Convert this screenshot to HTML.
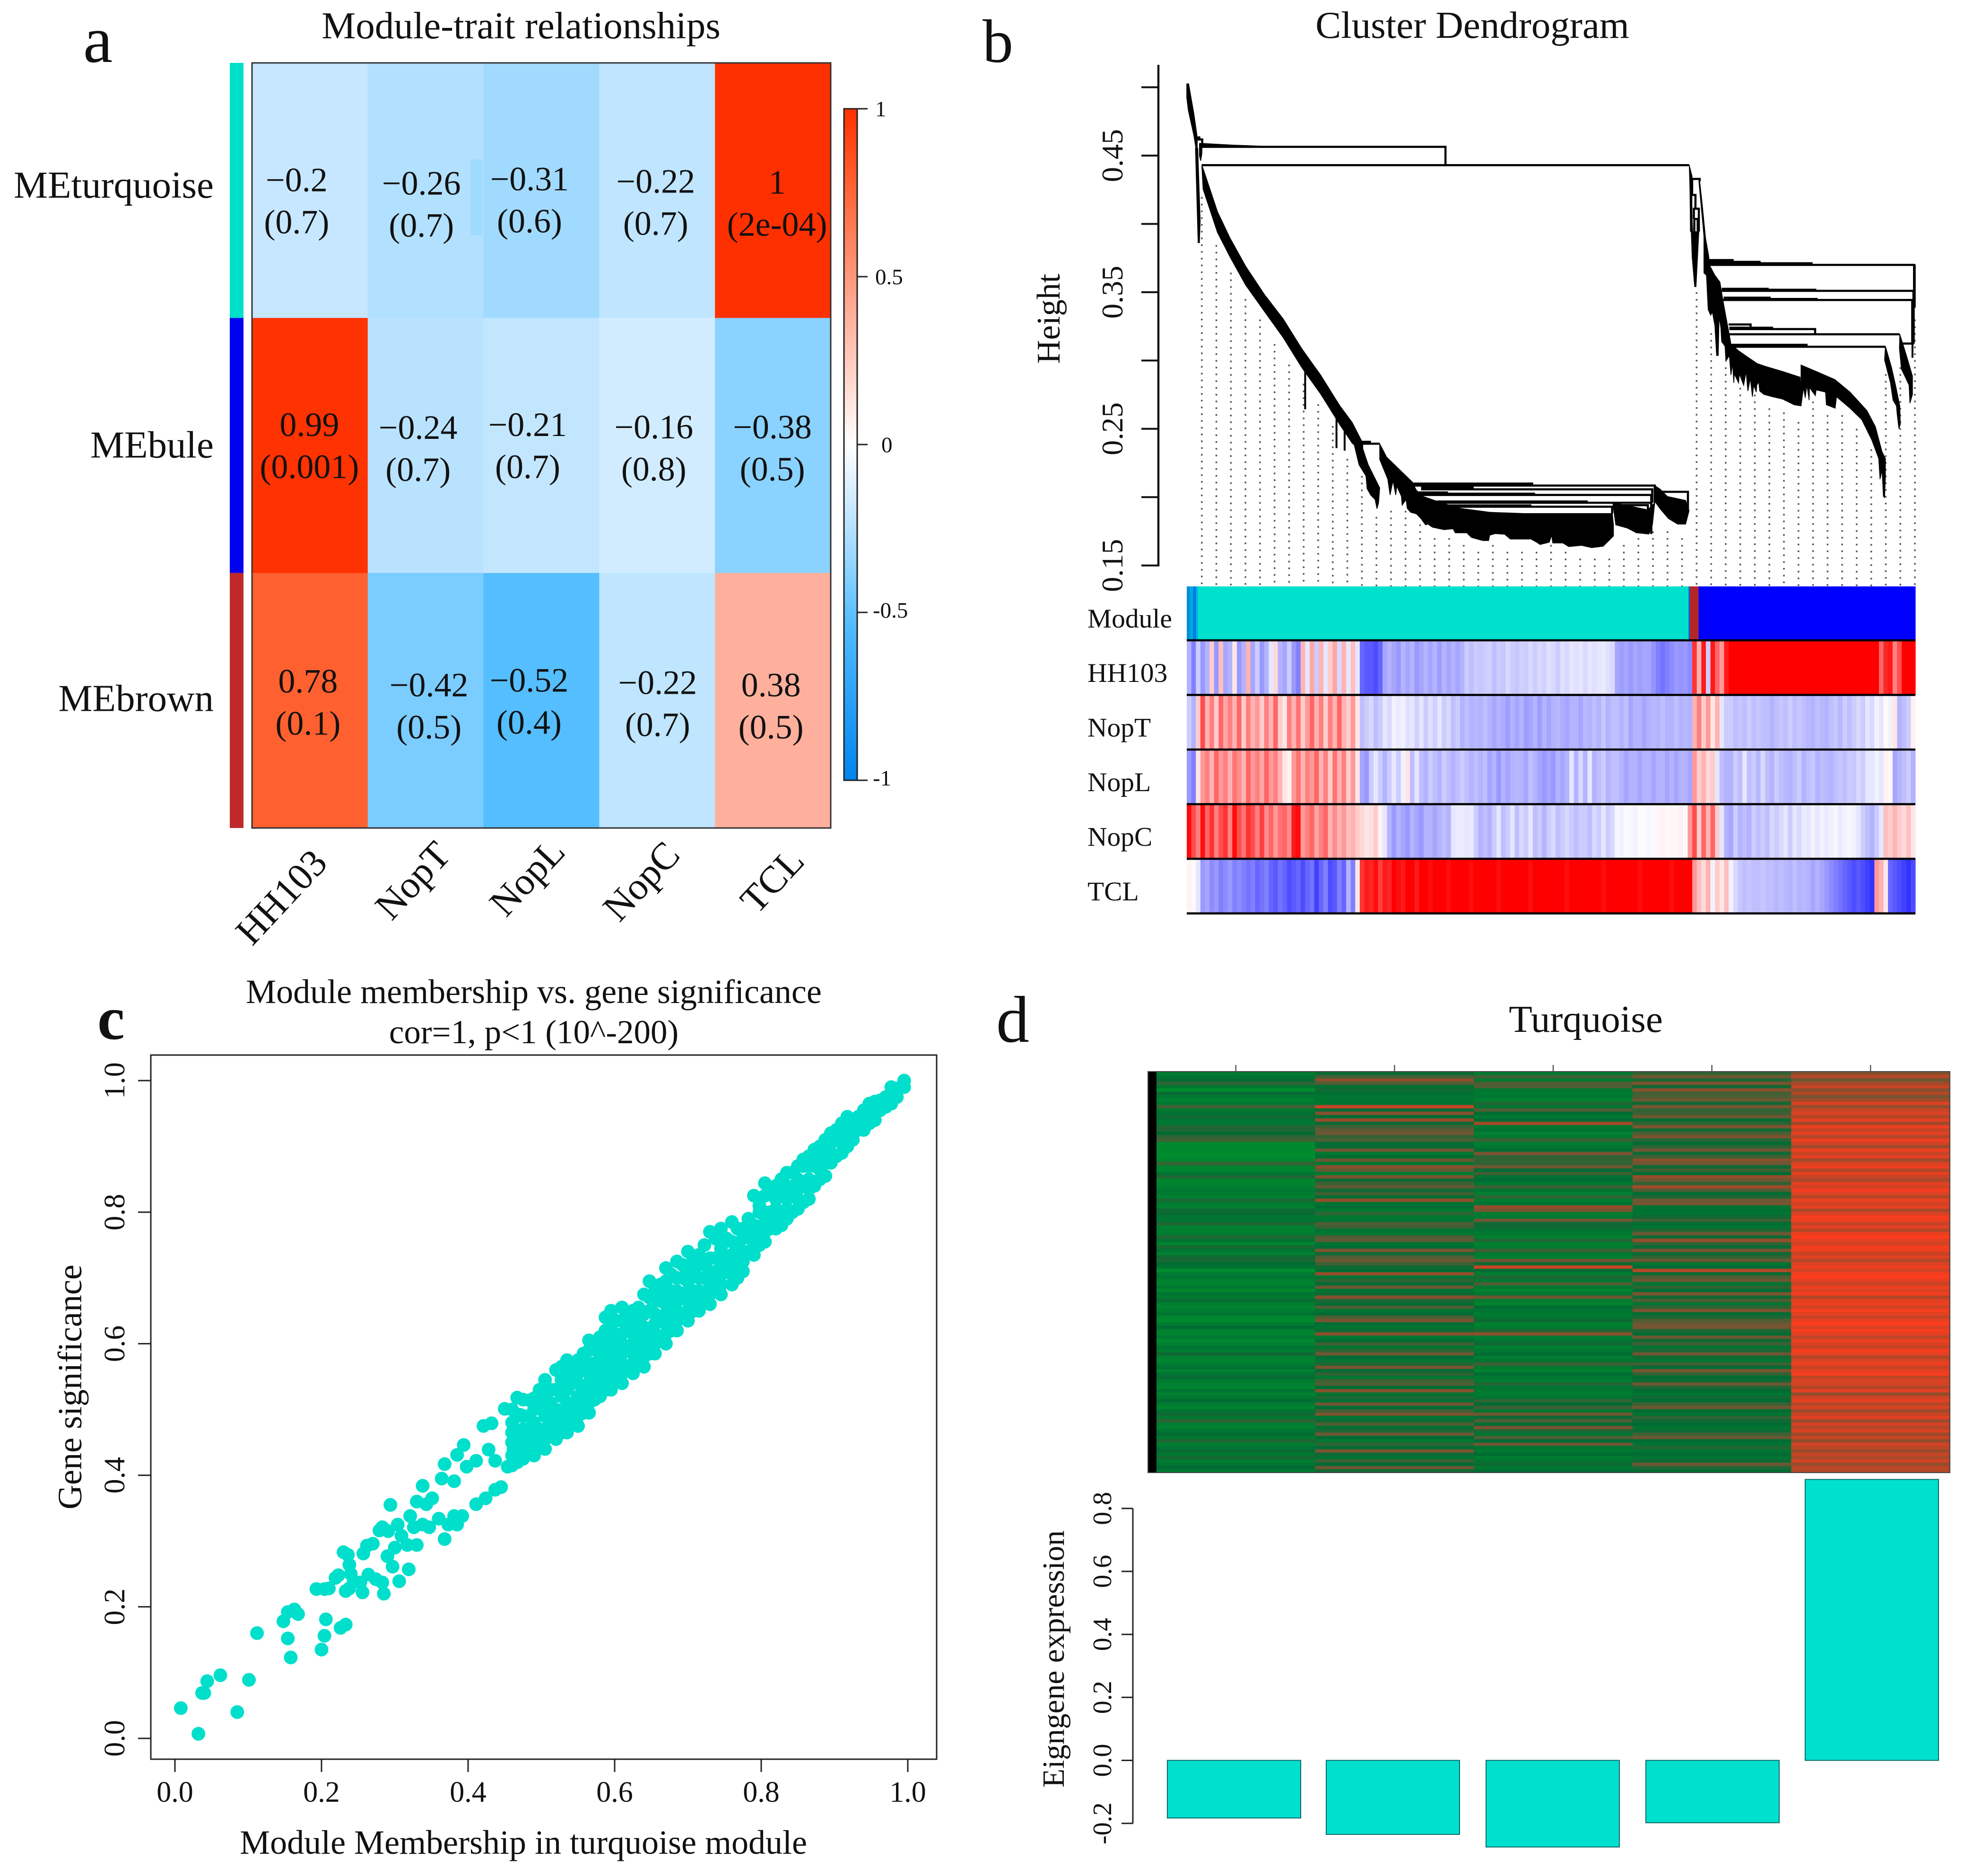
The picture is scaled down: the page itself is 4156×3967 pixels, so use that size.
<!DOCTYPE html>
<html lang="en">
<head>
<meta charset="utf-8">
<title>WGCNA module analysis figure</title>
<style>
html,body{margin:0;padding:0;background:#fff;}
svg{display:block;}
text{font-family:"Liberation Serif","Noto Serif CJK SC",serif;fill:#111;}
</style>
</head>
<body>
<svg id="fig" xmlns="http://www.w3.org/2000/svg" width="4156" height="3967" viewBox="0 0 4156 3967">
<rect x="0" y="0" width="4156" height="3967" fill="#fff"/>

<g id="panelA">
<text x="176" y="131" font-size="140">a</text>
<text x="1102" y="81" font-size="81" text-anchor="middle">Module-trait relationships</text>
</g>

<g id="panelB">
<text x="2078" y="131" font-size="130">b</text>
<text x="3114" y="80" font-size="81" text-anchor="middle">Cluster Dendrogram</text>
<text x="2241" y="674" font-size="70" text-anchor="middle" transform="rotate(-90 2241 674)">Height</text>
</g>

<g id="panelC">
<text x="206" y="2197" font-size="130" font-weight="bold">c</text>
<text x="1129" y="2121" font-size="72" text-anchor="middle">Module membership vs. gene significance</text>
<text x="1129" y="2206" font-size="71" text-anchor="middle">cor=1, p&lt;1 (10^-200)</text>
<text x="1107" y="3920" font-size="72" text-anchor="middle">Module Membership in turquoise module</text>
<text x="172" y="2933" font-size="72" text-anchor="middle" transform="rotate(-90 172 2933)">Gene significance</text>
<rect x="319" y="2231" width="1662" height="1489" fill="none" stroke="#222" stroke-width="3"/>
</g>

<g id="panelD">
<text x="2107" y="2203" font-size="140">d</text>
<text x="3354" y="2182" font-size="81" text-anchor="middle">Turquoise</text>
<text x="2250" y="3508" font-size="65.5" text-anchor="middle" transform="rotate(-90 2250 3508)">Eigngene expression</text>
<rect x="2428" y="2266" width="18" height="848" fill="#000"/>
</g>
</svg>

<script>
/* ---------- Panel a data ---------- */
var moduleNames = ["MEturquoise", "MEbule", "MEbrown"];
var moduleColors = ["#00DFC9", "#0000F0", "#BE2A2A"];
var traitNames = ["HH103", "NopT", "NopL", "NopC", "TCL"];
var corrValues = [
  [-0.2, -0.26, -0.31, -0.22, 1],
  [0.99, -0.24, -0.21, -0.16, -0.38],
  [0.78, -0.42, -0.52, -0.22, 0.38]
];
var pValueLabels = [
  ["(0.7)", "(0.7)", "(0.6)", "(0.7)", "(2e-04)"],
  ["(0.001)", "(0.7)", "(0.7)", "(0.8)", "(0.5)"],
  ["(0.1)", "(0.5)", "(0.4)", "(0.7)", "(0.5)"]
];
var colorbarTicks = [1, 0.5, 0, -0.5, -1];

/* ---------- Panel b data: x = leaf order (0-1163), y = merge height ---------- */
var heightTicksMajor = [0.45, 0.35, 0.25, 0.15];
var heightTicksMinor = [0.5, 0.4, 0.3, 0.2];

/* outline of each densely merged cluster branch, as leaf / height vertices */
var clusterOutlineLeaves = [
  [0,3,11.3,16.4,14.6,11.3,2.5,0],
  [13.9,17.6,21.4,20.2,18.1],
  [20.2,24.7,24,22.2,20.2],
  [25,73,121,219,25],
  [24,26,36,49,69,94,124,154,184,214,244,264,281,281,264,244,214,184,154,124,94,69,49,36,26],
  [278.7,289.7,308,306.2,303.6,300.7,293.4,287.9,286,275.1,267.8],
  [308,319,337.3,359.2,366.5,377.5,403.1,436,483.6,538.5,679.3,681.1,681.1,673.8,664.7,646.4,630,609.8,600.6,584.2,582.3,578.7,564.1,558.6,549.4,516.5,507.4,492.7,483.6,481.8,472.6,454.3,447,428.7,425.1,410.4,392.1,384.8,381.2,373.8,366.5,357.4,351.9,350.1,343.8,342.7,335.4,333.6,329.2,324.5,320.8,308],
  [680,701.2,736,747,743.3,737.8,717.7,703,684.8],
  [747,756.1,767.1,796.3,801.8,796.3,783.5,768.9,756.1,747],
  [802.1,806.7,805.3,807.5,804,803.2],
  [805.3,817.4,812.9,810.7,806.7],
  [818.8,822.8,828.2,832.8,835,843,851.1,855.2,860.6,866,868.7,866,860.6,859.2,853.8,852.5,849.8,848.4,845.7,843,839,836.3,832.3,829.6,825.5,825.5,820.1,817.4],
  [868.7,880.8,897,910.4,923.9,950.9,979.1,980.5,969.7,950.9,934.7,921.2,914.5,913.1,909.9,909.1,905,902.9,899.6,895.6,892.9,888.9,882.1,880.8,874,873.2,871.3,868.7,866],
  [980.5,1004.7,1034.4,1058.7,1085.6,1099.1,1109.9,1115.2,1115.2,1113.9,1112,1109.9,1106.6,1104.5,1093.7,1077.5,1058.7,1037.1,1035,1021,1019.6,1004.7,1003.4,994,993.4,989.9,987.2,984.5,980.5],
  [1115.2,1124.7,1131.4,1138.2,1139,1136.8,1134.1,1132.8,1127.4,1123.3,1113.9],
  [1138.2,1147.6,1158.4,1158.4,1154.3,1153,1146.2,1140.8,1137.6],
  [1160.5,1163,1163,1160.5]
];
var clusterOutlineHeights = [
  [.5025,.5025,.4808,.4647,.4554,.4647,.4831,.4924],
  [.4554,.4554,.4024,.3862,.3862],
  [.4589,.4589,.4508,.4462,.4497],
  [.4589,.4577,.4569,.4564,.4560],
  [.4430,.4406,.4269,.4090,.3897,.3690,.3483,.3304,.3084,.2891,.2671,.2547,.2395,.2326,.2395,.2533,.2753,.2946,.3167,.3359,.3552,.3759,.3938,.4117,.4255],
  [.2386,.2236,.2068,.1959,.1915,.1982,.2016,.2062,.2155,.2236,.2374],
  [.2391,.2293,.2212,.2114,.2051,.2005,.1964,.1918,.1889,.1880,.1880,.1797,.1716,.1682,.1641,.1630,.1647,.1638,.1664,.1664,.1722,.1670,.1653,.1670,.1693,.1693,.1728,.1733,.1722,.1682,.1682,.1705,.1739,.1739,.1768,.1762,.1780,.1803,.1797,.1843,.1878,.1889,.1918,.1982,.1941,.2005,.2080,.2016,.2120,.2016,.2132,.2276],
  [.1959,.1941,.1907,.1959,.1797,.1730,.1739,.1774,.1797],
  [.2085,.2057,.2005,.1976,.1901,.1803,.1803,.1843,.1912,.1970],
  [.4430,.4346,.4212,.3943,.3943,.4245],
  [.3943,.3943,.3541,.3541,.3759],
  [.4312,.4145,.3893,.3775,.3692,.3624,.3574,.3457,.3322,.3188,.3121,.3037,.2995,.3104,.3138,.3239,.3322,.3037,.3037,.3255,.3356,.3331,.3373,.3624,.3641,.3910,.4178,.4312],
  [.3121,.3071,.3020,.2978,.2957,.2920,.2878,.2668,.2676,.2718,.2735,.2752,.2777,.2844,.2819,.2769,.2819,.2735,.2869,.2777,.2920,.2819,.2903,.2836,.2903,.2836,.2978,.2894,.3037],
  [.2967,.2920,.2861,.2769,.2634,.2517,.2332,.2282,.2148,.1997,.2005,.2198,.2131,.2282,.2416,.2567,.2651,.2735,.2651,.2676,.2769,.2785,.2743,.2802,.2710,.2819,.2727,.2802,.2668],
  [.3104,.2953,.2819,.2668,.2534,.2500,.2601,.2668,.2710,.2836,.3004],
  [.3192,.3054,.2886,.2752,.2688,.2819,.2886,.2936,.3087],
  [.3700,.3700,.3389,.3389]
];

var mergeLeftLeaf  = [20,24,15.6,14,806.7,805.3,809.4,810.2,831,854,855,865,866,866,870,1138,278.7,359,374,370,399.5,407,680,747,831,831,831,854,854,857,857,870,866,265,359,374,370,370,399,407];
var mergeRightLeaf = [413,802,24.7,20,818.8,812,817.4,815.6,1161,1160,1158,900,1003,1138,1115,1161,308,747,743,741.5,741.5,679,736,800,873,916,999,929,1005,932,1007,991,936,294,553,458,417,556,640,550];
var mergeHeights   = [.4564,.4430,.4618,.4633,.4329,.4212,.4111,.4036,.3700,.3510,.3443,.3264,.3230,.3192,.3101,.3124,.2391,.2085,.2057,.2016,.1959,.1930,.1941,.2039,.3735,.3722,.3712,.3525,.3518,.3460,.3450,.3115,.3240,.2405,.2099,.2071,.2034,.2025,.1968,.1939];
var mergeLeftDrop  = [.4564,.4430,.4554,.4618,.4212,.3943,.4036,.3943,.3700,.3510,.3443,.3264,.3230,.3192,.3101,.3124,.2386,.2114,.2057,.2016,.1959,.1930,.1941,.2039,.3735,.3722,.3712,.3525,.3518,.3460,.3450,.3115,.3240,.2405,.2099,.2071,.2034,.2025,.1968,.1939];
var mergeRightDrop = [.4430,.4430,.4589,.4618,.4312,.4111,.3943,.3943,.3389,.3443,.3124,.3240,.3192,.3192,.3101,.3124,.2391,.1959,.1959,.1907,.1730,.1880,.1907,.1901,.3735,.3722,.3712,.3525,.3518,.3460,.3450,.3115,.3240,.2405,.2099,.2071,.2034,.2025,.1968,.1939];

var spikeLeaves = [189, 239, 252, 1160.5, 1158.4];
var spikeTop    = [.2954, .2629, .2560, .3389, .3124];
var spikeBottom = [.2643, .2359, .2340, .3124, .3020];

var guideStartHeights = [
  .4197, .3845, .3643, .345, .33, .312, .297, .283, .268, .252,
  .228, .2155, .1855, .19, .19, .18, .17, .17, .165, .16,
  .165, .16, .16, .16, .165, .16, .155, .155, .155, .165,
  .17, .175, .175, .17, .35, .32, .295, .28, .275, .265,
  .262, .255, .27, .26, .26, .25, .235, .29, .295, .33
];

var moduleStripLabel = "Module";
var moduleStripSizes = [5, 5, 5, 3, 783, 2, 14, 346];
var moduleStripColors = ["#0090d8", "#00a8e0", "#0080e0", "#00b8e0", "#00E0CE", "#1060d0", "#B22828", "#0000FF"];

var traitStripNames = ["HH103", "NopT", "NopL", "NopC", "TCL"];
var stripHH103 = [
  -.3,-.5,-.2,-.4,-.3,.2,-.4,.25,-.35,-.3,.1,-.4,-.3,.3,-.35,-.2,-.4,-.3,-.1,.15,-.3,-.35,-.2,-.4,-.5,.3,-.1,.35,-.2,.3,-.1,.2,.35,-.15,.3,-.1,.25,-.1,
  -.6,-.65,-.65,-.7,-.6,
  -.35,-.3,-.35,-.4,-.3,-.35,-.3,-.4,-.35,-.3,-.35,-.3,-.38,-.3,-.35,-.3,-.35,-.3,
  -.2,-.25,-.2,-.22,-.2,-.18,-.25,-.2,-.22,-.15,-.2,-.22,-.18,-.2,-.15,-.2,-.15,-.18,-.12,-.15,-.2,-.12,-.15,-.1,-.12,-.1,-.15,-.1,-.12,-.1,-.08,-.12,-.15,
  -.35,-.38,-.35,-.4,-.35,-.38,-.35,-.35,-.42,-.5,-.55,-.5,-.45,-.4,-.42,-.4,-.45,
  .8,.3,.9,-.2,.9,.6,.4,.9,
  1,1,1,1,1,1,1,1,1,1,1,1,1,1,1,1,1,1,1,1,1,1,1,1,1,1,1,1,1,1,1,1,1,
  .6,.85,.9,.5,.7,1,1,1
];
var stripNopT = [
  -.2,-.3,.2,.7,.3,.5,.2,.6,.35,.5,.3,.6,.2,.5,.3,.4,.2,.5,.3,.6,.2,.1,.5,.3,.55,.2,.4,.6,.3,.5,.2,.5,.3,.6,.3,.2,.4,.1,
  -.25,-.2,-.15,-.25,-.2,-.1,-.15,-.05,-.08,-.05,-.12,-.1,-.18,-.1,-.2,-.12,-.18,-.1,-.2,-.15,-.25,-.2,-.3,
  -.25,-.3,-.28,-.3,-.25,-.3,-.35,-.3,-.32,-.38,-.3,-.35,-.3,-.38,-.35,-.3,-.38,-.3,-.35,-.3,-.28,-.32,-.35,-.3,-.3,-.35,-.28,-.3,-.25,-.3,-.22,-.3,-.25,
  -.25,-.3,-.25,-.35,-.3,-.3,-.35,-.3,-.28,-.3,-.25,-.3,-.3,-.25,-.3,-.28,-.3,
  .3,.5,.2,.4,.1,.3,-.1,-.2,
  -.2,-.25,-.22,-.25,-.2,-.25,-.22,-.25,-.25,-.3,-.25,-.22,-.25,-.2,-.25,-.22,-.25,-.28,-.3,-.25,-.28,-.3,-.25,-.22,-.28,-.2,-.25,-.2,-.15,-.2,-.1,-.15,-.05,-.1,.02,-.05,.1,-.3,-.25,-.2,.05
];
var stripNopL = [
  -.4,-.5,.1,.4,.5,.3,.6,.4,.5,.3,.55,.45,.3,.6,.4,.5,.35,.6,.4,.5,.3,.1,.05,.4,.55,.3,.5,.4,.6,.3,.5,.2,.55,.3,.5,.2,.4,.1,
  -.35,-.4,-.2,-.1,-.2,-.3,-.2,-.1,-.2,-.05,.1,-.25,-.1,-.25,-.3,-.2,-.25,-.3,-.2,-.25,-.3,-.25,-.2,
  -.25,-.3,-.25,-.3,-.25,-.35,-.3,-.4,-.3,-.35,-.3,-.28,-.3,-.35,-.25,-.3,-.35,-.4,-.35,-.4,-.3,-.35,-.3,-.1,-.3,-.15,-.3,-.1,-.3,-.25,-.2,-.3,-.25,
  -.25,-.3,-.35,-.3,-.3,-.35,-.3,-.3,-.35,-.3,-.3,-.35,-.3,-.35,-.3,-.3,-.35,
  .4,.2,.3,.15,.2,-.1,-.25,-.3,
  -.3,-.2,-.25,-.1,-.25,-.2,-.28,-.15,-.25,-.3,-.2,-.25,-.28,-.3,-.25,-.2,-.3,-.25,-.22,-.3,-.25,-.28,-.3,-.25,-.22,-.25,-.2,-.22,-.15,-.2,-.1,-.1,-.05,-.1,.05,.03,-.35,-.3,-.25,-.2,-.3
];
var stripNopC = [
  .95,.7,.5,.95,.6,.8,.5,.7,.8,.5,.95,.7,.55,.8,.7,.5,.75,.45,.6,.4,.55,.6,.45,.9,.95,.4,.5,.6,.35,.5,.6,.3,.45,.3,.4,.25,.3,.2,
  .15,.1,.12,.2,.05,-.1,
  -.3,-.4,-.3,-.35,-.4,-.3,-.35,-.4,-.3,-.3,-.35,-.3,-.25,-.3,-.1,-.08,-.08,
  -.1,-.08,-.2,-.3,-.25,-.3,-.2,-.1,-.25,-.2,-.1,-.25,-.15,-.2,-.1,-.25,-.2,-.3,-.2,-.15,-.25,-.2,-.15,-.2,-.25,-.2,-.2,-.25,-.15,-.2,-.1,-.2,-.15,
  -.03,-.05,-.02,-.03,-.05,.02,-.02,-.03,-.02,.03,.05,.02,.04,.03,.05,.02,.4,
  .7,.2,.6,.3,.6,.2,-.1,-.3,
  -.35,-.2,-.3,-.25,-.3,-.2,-.25,-.2,-.25,-.15,-.2,-.15,-.1,-.2,-.1,-.15,-.08,-.1,-.05,-.1,-.05,-.08,-.05,-.03,-.08,-.05,-.03,-.05,-.1,-.2,-.25,-.3,-.2,-.1,.25,.2,.3,.2,.15,.25,.1
];
var stripTCL = [
  .05,.02,-.1,-.4,-.35,-.45,-.4,-.5,-.45,-.4,-.5,-.45,-.5,-.55,-.5,-.6,-.55,-.5,-.6,-.65,-.55,-.6,-.7,-.65,-.6,-.7,-.6,-.55,-.75,-.6,-.5,-.7,-.65,-.5,-.6,-.3,-.5,.1,
  .8,.9,.85,.95,.75,.9,.85,1,.95,.9,
  1,1,.9,1,1,.95,1,1,1,.95,
  1,1,1,1,.95,1,1,1,1,1,
  .95,1,1,1,1,1,1,.95,1,1,
  1,1,1,1,1,.95,1,1,1,1,
  1,1,1,.95,1,1,1,1,1,1,
  1,.95,1,1,1,1,1,1,.95,1,
  1,1,1,
  .4,.25,.15,.3,-.05,.2,.1,.25,
  -.05,-.15,-.22,-.25,-.22,-.25,-.25,-.22,-.25,-.25,-.28,-.25,-.28,-.3,-.25,-.3,-.28,-.3,-.35,-.3,-.35,-.4,-.45,-.5,-.55,-.6,-.65,-.7,-.65,-.7,-.75,-.8,.4,.3,.1,-.6,-.65,-.7,-.75,-.8,-.7
];

/* ---------- Panel c data ---------- */
var scatterTicks = [0, 0.2, 0.4, 0.6, 0.8, 1];
var sparseMembership = [.008,.032,.037,.040,.044,.062,.085,.101,.112,.148,.154,.163,.168,.154,.158,.200,.204,.206,.226,.233,.193,.204,.210,.219,.223,.230,.236,.238,.240,.233,.238,.244,.256,.253,.264,.274,.283,.285,.257,.262,.270,.279,.283,.291,.290,.300,.309,.304,.317,.297,.319,.306,.330,.294,.326,.321,.330,.338,.343,.351,.360,.368,.347,.338,.373,.385,.381,.392,.364,.381,.368,.385,.398,.394,.411,.421,.432,.428,.437,.411,.424,.437,.445,.454,.462,.450,.467,.471,.484];
var sparseSignificance = [.046,.007,.069,.069,.087,.096,.040,.089,.160,.178,.192,.196,.189,.152,.123,.135,.156,.181,.168,.173,.227,.227,.228,.244,.248,.283,.279,.264,.250,.224,.228,.239,.222,.237,.249,.242,.237,.220,.281,.293,.296,.316,.321,.315,.277,.290,.308,.325,.294,.261,.257,.239,.294,.355,.321,.338,.360,.384,.356,.365,.334,.303,.321,.325,.325,.325,.338,.338,.395,.391,.417,.431,.413,.446,.422,.475,.479,.439,.422,.356,.365,.378,.382,.413,.439,.501,.518,.492,.514];
var coreMembership = [.46,.475,.49,.505,.52,.535,.55,.565,.58,.595,.61,.625,.64,.655,.67,.685,.70,.715,.73,.745,.76,.775,.79,.805,.82,.835,.85,.865,.88,.895,.91,.925,.94,.955,.97,.985,.995];
var coreSignificance = [
  [.415,.43,.45,.465,.48,.50],
  [.425,.44,.455,.47,.49,.515],
  [.43,.445,.46,.48,.50,.517],
  [.44,.455,.47,.49,.505,.52,.545],
  [.455,.47,.485,.50,.53,.56],
  [.465,.48,.495,.51,.53,.555,.575],
  [.475,.49,.505,.52,.54,.555,.575],
  [.495,.51,.525,.54,.555,.57,.59,.605],
  [.52,.535,.55,.565,.58,.595,.61],
  [.53,.545,.56,.575,.59,.605,.625,.65],
  [.54,.555,.57,.585,.60,.615,.635,.655],
  [.555,.57,.585,.60,.615,.63,.65,.645],
  [.565,.58,.595,.61,.625,.645,.675],
  [.585,.60,.615,.63,.645,.665,.68],
  [.60,.615,.63,.645,.66,.675,.695,.715],
  [.62,.635,.65,.665,.68,.70,.725],
  [.635,.65,.665,.68,.695,.715,.74],
  [.65,.665,.68,.70,.72,.735],
  [.66,.675,.69,.71,.73,.77],
  [.675,.69,.705,.72,.745,.775],
  [.69,.705,.72,.735,.755,.785],
  [.71,.725,.74,.76,.775],
  [.735,.75,.765,.78,.825],
  [.755,.77,.785,.80,.825,.844],
  [.775,.79,.805,.82,.84],
  [.79,.805,.82,.84,.86],
  [.805,.82,.835,.85,.87],
  [.82,.835,.85,.87,.885],
  [.85,.865,.88,.90],
  [.875,.89,.905,.92],
  [.89,.905,.92,.935],
  [.91,.925,.94],
  [.925,.94,.955],
  [.94,.955,.968],
  [.96,.975],
  [.975,.988],
  [.99,1]
];
var midMembership = [.4825,.5125,.5425,.5725,.6025,.6325,.6625,.6925,.7225,.7525,.7825,.8125,.8425,.8725,.9025,.9325,.9625];
var midSignificance = [
  [.44,.47,.49],
  [.46,.48,.51,.53],
  [.485,.51,.54,.56],
  [.515,.545,.57,.595],
  [.55,.58,.61,.635],
  [.58,.605,.63,.655],
  [.61,.64,.665,.69],
  [.645,.675,.70,.72],
  [.675,.70,.72,.75],
  [.71,.73,.76],
  [.74,.765,.79],
  [.775,.80,.83],
  [.80,.83,.86],
  [.84,.87,.895],
  [.885,.91,.925],
  [.925,.945],
  [.955,.97]
];
var denseMembership = [.4675,.4975,.5275,.5575,.5875,.6175,.6475,.6775,.7075,.7375,.7675,.7975,.8275,.8575,.8875,.9175,.9475,.9775];
var denseSignificance = [
  [.42,.44,.46,.49],
  [.45,.47,.51,.53],
  [.465,.49,.52,.545,.565],
  [.495,.515,.535,.56,.585],
  [.53,.555,.585,.62,.64],
  [.56,.59,.625,.645],
  [.585,.62,.65,.67,.695],
  [.62,.65,.68,.705],
  [.65,.68,.71,.73],
  [.68,.705,.73,.76],
  [.70,.725,.75,.775],
  [.75,.775,.80,.81],
  [.78,.80,.825,.85],
  [.815,.845,.87,.88],
  [.855,.875,.895,.91],
  [.90,.92,.935,.945],
  [.935,.95,.965],
  [.965,.98,.99]
];

/* ---------- Panel d data ---------- */
var eigengeneTicks = [-0.2, 0, 0.2, 0.4, 0.6, 0.8];
var eigengeneValues = [-0.183, -0.235, -0.275, -0.198, 0.892];
var exprColumn1 = [
  -.8,-.7,-.55,-.3,-.75,-1,-.55,-.75,-.85,-.75,-.2,-.75,
  -.65,-.5,-.7,-.75,-.4,-.4,-.6,-.3,-.2,-.95,-.95,-.95,
  -1,-1,-.9,-.25,-.85,-.9,-.7,-.4,-.9,-.9,-.85,-.75,
  -.8,-.85,-.45,-.8,-.85,-.5,-.55,-.7,-.7,-.4,-.85,-.85,
  -.8,-.4,-.7,-.9,-.45,-.7,-.85,-.5,-.45,-.6,-.7,-1,
  -.8,-.7,-.85,-.9,-.75,-.95,-.7,-.8,-.55,-.85,-.9,-.8,
  -.7,-.9,-.95,-.8,-.6,-.85,-.9,-.75,-.95,-.85,-.7,-.8,
  -.5,-.85,-.9,-.8,-.65,-.85,-.7,-.55,-.8,-.85,-.9,-.7,
  -.85,-.75,-.6,-.8,-.9,-.7,-.5,-.75,-.3,-.8,-.85,-.7,
  -.6,-.75,-.4,-.8,-.7,-.55,-.75,-.45,-.8,-.7,-.6,-.75
];
var exprColumn2 = [
  -.55,-.2,.35,-.1,-.65,-.5,-.65,-.75,-.7,-.7,.7,-.5,
  .3,-.6,.4,-.5,-.2,0,.1,-.3,-.1,-.6,-.55,.1,
  -.75,-.6,.1,-.75,.3,0,-.8,.2,-.5,-.2,0,-.5,
  -.2,-.6,.4,-.7,-.6,-.75,-.3,-.75,-.7,-.1,-.2,-.7,
  -.75,-.1,0,-.7,-.6,.2,-.5,-.1,.1,-.2,-.5,-.6,
  .4,-.7,-.3,-.6,.1,-.7,-.5,.3,-.4,-.6,-.1,-.7,
  -.6,-.1,.2,-.6,-.7,-.5,.3,-.75,-.6,-.2,-.7,-.3,
  .1,-.6,-.7,-.4,.2,-.6,-.3,-.75,-.2,-.1,-.6,.3,
  -.7,-.4,-.65,.1,-.6,-.2,.2,-.7,-.5,-.1,-.65,-.4,
  .1,-.6,-.75,-.3,-.6,.2,-.5,-.7,-.2,-.6,.1,-.5
];
var exprColumn3 = [
  -.8,-.2,-.75,-.1,-.1,-.75,-.8,-.75,-.85,-.4,-.7,-.1,
  -.6,-.75,-.6,.5,-.75,-.65,-.85,-.75,-.2,-.8,-.75,-.6,
  .2,-.3,-.3,-.3,.1,-.6,-.2,-.65,-.6,-.75,-.2,-.7,
  -.85,-.3,-.8,-.7,.4,.2,-.8,-.75,.1,-.5,-.5,-.7,
  -.75,-.85,-.4,-.85,-.8,-.2,-.75,-.85,.1,-.5,.7,-.6,
  -.8,-.4,-.75,-.1,-.75,-.85,-.7,.1,-.8,-.85,-.6,-.7,
  -.8,-.75,-.5,-.85,-.8,-.4,.3,-.8,-.7,-.5,-.85,-.75,
  -.6,-.8,-.7,-.2,-.75,-.85,-.6,-.75,-.8,-.4,-.7,-.75,
  -.8,-.7,-.3,-.6,-.2,-.7,.1,-.5,-.1,-.6,.2,-.4,
  -.7,-.1,-.6,.1,-.7,-.75,-.6,-.8,-.7,-.5,-.75,-.6
];
var exprColumn4 = [
  -.3,.1,-.4,.2,-.5,.3,-.2,-.1,.1,-.5,.2,-.3,
  -.2,.1,-.6,-.3,.2,-.5,-.1,.2,-.4,-.6,-.3,.1,
  -.5,-.2,.3,.1,-.5,-.2,-.6,.4,.1,-.3,.5,-.1,
  -.6,-.4,.1,.2,-.7,-.65,-.7,-.5,-.2,-.6,-.7,-.4,
  .1,-.5,.4,-.3,-.6,.2,-.5,-.3,.1,-.7,-.6,.6,
  -.5,-.1,.1,-.7,-.3,-.6,.2,-.5,-.1,-.7,-.3,.2,
  -.6,-.4,-.1,.1,.2,-.4,-.6,.1,-.5,-.2,-.7,-.4,
  .1,-.5,-.7,-.2,-.6,.2,-.3,-.6,-.5,.1,-.4,-.6,
  -.7,-.5,-.6,-.2,.1,-.6,-.7,-.3,-.5,-.6,-.7,-.5,
  -.2,.1,-.6,-.7,-.4,-.7,-.6,-.7,-.5,.1,-.4,-.6
];
var exprColumn5 = [
  .3,.6,.1,.5,.7,.3,.6,.2,.5,.8,.4,.7,
  .8,.6,.85,.5,.9,.7,.85,.6,.9,.75,.5,.9,
  .7,.85,.5,.8,.9,.6,.85,.7,.55,.85,.75,.95,
  .8,.6,.9,.75,.85,.55,.8,.95,.9,.7,.85,.6,
  .9,1,.85,.75,.95,.9,.7,.85,.6,.8,.9,.75,
  .95,1,.85,.7,.9,.8,.95,.6,.85,.9,.75,.95,
  .85,.7,.9,1,.8,.95,.85,.65,.9,.8,.7,.95,
  .85,.6,.8,.9,.7,.85,.95,.65,.8,.75,.6,.85,
  .4,.75,.85,.6,.8,.5,.7,.85,.45,.75,.6,.8,
  .5,.7,.4,.75,.65,.45,.7,.55,.75,.4,.65,.6
];

/* ---------- helpers ---------- */
var NS = "http://www.w3.org/2000/svg";
function add(parent, tag, attrs, txt) {
  var el = document.createElementNS(NS, tag);
  for (var k in attrs) el.setAttribute(k, attrs[k]);
  if (txt !== undefined) el.textContent = txt;
  parent.appendChild(el);
  return el;
}
function hex(c) { return [parseInt(c.substr(1,2),16), parseInt(c.substr(3,2),16), parseInt(c.substr(5,2),16)]; }
function ramp(stops, v) {
  if (v <= stops[0][0]) return stops[0][1];
  for (var i = 1; i < stops.length; i++) {
    if (v <= stops[i][0]) {
      var t = (v - stops[i-1][0]) / (stops[i][0] - stops[i-1][0]);
      var a = hex(stops[i-1][1]), b = hex(stops[i][1]);
      return "rgb(" + Math.round(a[0]+(b[0]-a[0])*t) + "," + Math.round(a[1]+(b[1]-a[1])*t) + "," + Math.round(a[2]+(b[2]-a[2])*t) + ")";
    }
  }
  return stops[stops.length-1][1];
}
var corrRamp = [[-1,"#0084ee"],[-0.52,"#55beff"],[-0.38,"#8ad2ff"],[-0.2,"#c6e7ff"],[0,"#ffffff"],[0.38,"#ffb09c"],[0.78,"#ff6030"],[1,"#ff3000"]];
var stripRamp = [[-1,"#0000ff"],[0,"#ffffff"],[1,"#ff0000"]];
var exprRamp = [[-1,"#008c2d"],[-0.6,"#006c34"],[0,"#5f5a34"],[0.5,"#a04a2a"],[1,"#ff3c1e"]];
function fmtSigned(v) { return v < 0 ? "\u2212" + Math.abs(v) : String(v); }

/* ---------- Panel a ---------- */
var panelA = document.getElementById("panelA");
var heatLeft = 533, heatTop = 133, colW = 244.8, rowH = 539.3;
function heatX(c) { return heatLeft + c * colW; }
function heatY(r) { return heatTop + r * rowH; }
function cbY(v) { return 940 - v * 710; }
var cellNudgeX = [[-28,-9,-25,-3,9],[-1,-16,-29,-7,-1],[-4,7,-26,1,-4]];
var cellNudgeY = [[2,9,0,5,7],[-20,-14,-20,-15,-15],[-17,-9,-19,-14,-9]];

moduleNames.forEach(function (name, r) {
  var bar = add(panelA, "rect", {x:486, y:heatY(r), width:29, height:rowH, fill:moduleColors[r]});
  
  
  var lab = add(panelA, "text", {x:452, y:heatY(r) + [285, 295, 292][r], "font-size":81, "text-anchor":"end"}, name);
  
  
  traitNames.forEach(function (t, c) {
    var cell = add(panelA, "rect", {x:heatX(c), y:heatY(r), width:colW + 0.5, height:rowH + 0.5, fill:ramp(corrRamp, corrValues[r][c])});
    
    
  });
});
var patch = add(panelA, "rect", {x:996, y:337, width:24, height:160, fill:ramp(corrRamp, corrValues[0][2])});


moduleNames.forEach(function (name, r) {
  traitNames.forEach(function (t, c) {
    var cx = heatX(c) + colW/2 + cellNudgeX[r][c];
    var by = heatY(r) + rowH/2 + cellNudgeY[r][c];
    var l1 = add(panelA, "text", {x:cx, y:by, "font-size":72, "text-anchor":"middle"}, fmtSigned(corrValues[r][c]));
    
    
    var l2 = add(panelA, "text", {x:cx, y:by + 89, "font-size":72, "text-anchor":"middle"}, pValueLabels[r][c]);
    
    
  });
});
var heatFrame = add(panelA, "rect", {x:heatLeft, y:heatTop, width:colW*5, height:rowH*3, fill:"none", stroke:"#333", "stroke-width":3});


var colLabelAnchorX = [696, 957, 1199, 1442, 1705];
var colLabelAnchorY = [1828, 1811, 1804, 1811, 1824];
traitNames.forEach(function (t, c) {
  var ax = colLabelAnchorX[c], ay = colLabelAnchorY[c];
  var lab = add(panelA, "text", {x:ax, y:ay, "font-size":81, "text-anchor":"end", transform:"rotate(-47 " + ax + " " + ay + ")"}, t);
  
  
});
var defs = add(document.getElementById("fig"), "defs", {});
var grad = add(defs, "linearGradient", {id:"cbGrad", x1:0, y1:0, x2:0, y2:1});
for (var gi = 0; gi <= 40; gi++) {
  add(grad, "stop", {offset:(gi/40), "stop-color":ramp(corrRamp, 1 - gi/20)});
}
var cbBar = add(panelA, "rect", {x:1785, y:cbY(1), width:28, height:cbY(-1) - cbY(1), fill:"url(#cbGrad)", stroke:"#222", "stroke-width":3});


colorbarTicks.forEach(function (v) {
  var tk = add(panelA, "line", {x1:1813, x2:1835, y1:cbY(v), y2:cbY(v), stroke:"#222", "stroke-width":3});
  
  
  var tl = add(panelA, "text", {x: v < 0 ? 1846 : (v === 0 ? 1864 : 1851), y:cbY(v) + (v < 0 ? 11 : 16), "font-size":47}, String(v));
  
  
});

/* ---------- Panel b ---------- */
var panelB = document.getElementById("panelB");
function leafX(l) { return 2510 + l * 1541 / 1163; }
function heightY(h) { return 329 + (0.45 - h) * 2889; }
var axB = add(panelB, "line", {x1:2450, x2:2450, y1:137, y2:heightY(0.15) + 2, stroke:"#111", "stroke-width":4.5});


heightTicksMajor.concat(heightTicksMinor).forEach(function (v) {
  var tk = add(panelB, "line", {x1:2414, x2:2450, y1:heightY(v), y2:heightY(v), stroke:"#111", "stroke-width":4});
  
  
});
heightTicksMajor.forEach(function (v) {
  var y = heightY(v);
  var tl = add(panelB, "text", {x:2374, y:y, "font-size":64, "text-anchor":"middle", transform:"rotate(-90 2374 " + y + ")"}, v.toFixed(2));
  
  
});
guideStartHeights.forEach(function (h, i) {
  var x = leafX(24 + i * 23.23);
  var g = add(panelB, "line", {x1:x, x2:x, y1:heightY(h), y2:1240, stroke:"#555", "stroke-width":3.5, "stroke-dasharray":"3.5 10.8"});
  
  
});
clusterOutlineLeaves.forEach(function (leaves, b) {
  var pts = [];
  leaves.forEach(function (l, i) { pts.push(leafX(l).toFixed(1) + "," + heightY(clusterOutlineHeights[b][i]).toFixed(1)); });
  var poly = add(panelB, "polygon", {points:pts.join(" "), fill:"#000", stroke:"#000", "stroke-width":1.5});
  
  
});
mergeHeights.forEach(function (h, i) {
  var x1 = leafX(mergeLeftLeaf[i]), x2 = leafX(mergeRightLeaf[i]);
  var d = "M" + x1.toFixed(1) + " " + heightY(mergeLeftDrop[i]).toFixed(1) + "V" + heightY(h).toFixed(1) + "H" + x2.toFixed(1) + "V" + heightY(mergeRightDrop[i]).toFixed(1);
  var p = add(panelB, "path", {d:d, fill:"none", stroke:"#000", "stroke-width":4.5});
  
  
});
spikeLeaves.forEach(function (l, i) {
  var x = leafX(l);
  var s = add(panelB, "line", {x1:x, x2:x, y1:heightY(spikeTop[i]), y2:heightY(spikeBottom[i]), stroke:"#000", "stroke-width":4});
  
  
});

var stripTop = 1240, stripH0 = 114, stripRowH = 115.5;
var moduleLab = add(panelB, "text", {x:2300, y:1327, "font-size":57.5}, moduleStripLabel);


var cum = 0;
moduleStripSizes.forEach(function (n, i) {
  var r = add(panelB, "rect", {x:leafX(cum), y:stripTop, width:leafX(cum + n) - leafX(cum) + 0.5, height:stripH0, fill:moduleStripColors[i]});
  
  
  cum += n;
});
var traitStrips = [stripHH103, stripNopT, stripNopL, stripNopC, stripTCL];
traitStrips.forEach(function (vals, s) {
  var top = stripTop + stripH0 + s * stripRowH;
  var bw = 1163 / vals.length;
  vals.forEach(function (v, i) {
    var r = add(panelB, "rect", {x:leafX(i * bw), y:top, width:leafX(bw) - leafX(0) + 0.6, height:stripRowH, fill:ramp(stripRamp, v)});
    
    
  });
  var lab = add(panelB, "text", {x:2300, y:top + 88, "font-size":57.5}, traitStripNames[s]);
  
  
});
for (var li = 0; li <= 5; li++) {
  var ly = stripTop + stripH0 + li * stripRowH;
  var sep = add(panelB, "line", {x1:leafX(0), x2:leafX(1163), y1:ly, y2:ly, stroke:"#000", "stroke-width":4.5});
  
  
}

/* ---------- Panel c ---------- */
var panelC = document.getElementById("panelC");
function mmX(v) { return 370 + v * 1550; }
function gsY(v) { return 3676 - v * 1391; }
function dot(m, g) {
  var c = add(panelC, "circle", {cx:mmX(m).toFixed(1), cy:gsY(g).toFixed(1), r:14.5, fill:"#00DFCB"});
  
  
}
sparseMembership.forEach(function (m, i) { dot(m, sparseSignificance[i]); });
coreMembership.forEach(function (m, i) { coreSignificance[i].forEach(function (g) { dot(m, g); }); });
midMembership.forEach(function (m, i) { midSignificance[i].forEach(function (g) { dot(m, g); }); });
denseMembership.forEach(function (m, i) { denseSignificance[i].forEach(function (g) { dot(m, g); }); });
scatterTicks.forEach(function (v) {
  var tx = add(panelC, "line", {x1:mmX(v), x2:mmX(v), y1:3720, y2:3747, stroke:"#222", "stroke-width":3});
  
  
  var lx = add(panelC, "text", {x:mmX(v), y:3810, "font-size":62, "text-anchor":"middle"}, v.toFixed(1));
  
  
  var ty = add(panelC, "line", {x1:292, x2:319, y1:gsY(v), y2:gsY(v), stroke:"#222", "stroke-width":3});
  
  
  var ly2 = add(panelC, "text", {x:263, y:gsY(v), "font-size":62, "text-anchor":"middle", transform:"rotate(-90 263 " + gsY(v) + ")"}, v.toFixed(1));
  
  
});

/* ---------- Panel d ---------- */
var panelD = document.getElementById("panelD");
var exprColumns = [exprColumn1, exprColumn2, exprColumn3, exprColumn4, exprColumn5];
var exprLeft = 2446, exprColW = 335.6, exprTop = 2266, exprH = 848;
function exprX(c) { return exprLeft + c * exprColW; }
exprColumns.forEach(function (vals, c) {
  var rh = exprH / vals.length;
  vals.forEach(function (v, i) {
    var r = add(panelD, "rect", {x:exprX(c), y:exprTop + i * rh, width:exprColW + 0.5, height:rh + 0.5, fill:ramp(exprRamp, v)});
    
    
  });
  var cx = exprX(c) + exprColW / 2;
  var t = add(panelD, "line", {x1:cx, x2:cx, y1:2252, y2:exprTop, stroke:"#555", "stroke-width":2.5});
  
  
});
var exprFrame = add(panelD, "rect", {x:2428, y:exprTop, width:exprX(5) - 2428, height:exprH, fill:"none", stroke:"#444", "stroke-width":2});


function eigenY(v) { return 3722.5 - v * 666; }
var barLeft = [2469, 2805, 3143, 3481, 3818];
eigengeneValues.forEach(function (v, i) {
  var y = Math.min(eigenY(0), eigenY(v));
  var r = add(panelD, "rect", {x:barLeft[i], y:y, width:282, height:Math.abs(eigenY(v) - eigenY(0)), fill:"#00E0CE", stroke:"#0a6a66", "stroke-width":2});
  
  
});
var axD = add(panelD, "line", {x1:2396, x2:2396, y1:eigenY(0.8), y2:eigenY(-0.2), stroke:"#222", "stroke-width":3});


eigengeneTicks.forEach(function (v) {
  var y = eigenY(v);
  var tk = add(panelD, "line", {x1:2372, x2:2396, y1:y, y2:y, stroke:"#222", "stroke-width":3});
  
  
  var tl = add(panelD, "text", {x:2350, y:y, "font-size":56, "text-anchor":"middle", transform:"rotate(-90 2350 " + y + ")"}, v.toFixed(1));
  
  
});
</script>
</body>
</html>
